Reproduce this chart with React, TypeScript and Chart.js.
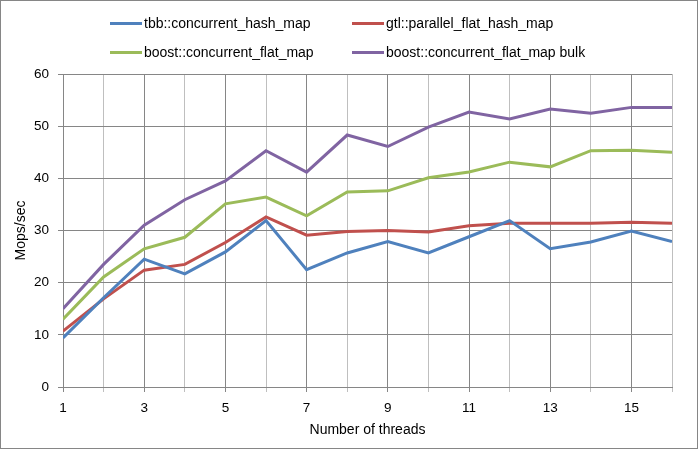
import React, { useEffect, useRef } from "react";
import { Chart, registerables } from "chart.js";

Chart.register(...registerables);

const threads = [1, 2, 3, 4, 5, 6, 7, 8, 9, 10, 11, 12, 13, 14, 15, 16];
const tbbHashMap = [9.4, 17.1, 24.5, 21.7, 25.9, 31.9, 22.5, 25.7, 27.9, 25.7, 28.8, 31.9, 26.5, 27.8, 29.9, 27.9];
const gtlParallel = [10.7, 16.9, 22.4, 23.5, 27.7, 32.6, 29.1, 29.8, 30.0, 29.7, 30.9, 31.4, 31.4, 31.4, 31.6, 31.4];
const boostFlat = [13.0, 21.1, 26.5, 28.7, 35.1, 36.4, 32.8, 37.4, 37.6, 40.1, 41.2, 43.1, 42.2, 45.3, 45.4, 45.0];
const boostBulk = [15.0, 23.5, 31.0, 35.9, 39.5, 45.3, 41.2, 48.3, 46.1, 49.8, 52.7, 51.4, 53.3, 52.5, 53.6, 53.6];

const seriesLabels = [
  "tbb::concurrent_hash_map",
  "gtl::parallel_flat_hash_map",
  "boost::concurrent_flat_map",
  "boost::concurrent_flat_map bulk",
];
const seriesColors = ["#4F81BD", "#C0504D", "#9BBB59", "#8064A2"];
const seriesValues = [tbbHashMap, gtlParallel, boostFlat, boostBulk];

const yTicks = { min: 0, max: 60, step: 10 };
const xTitle = "Number of threads";
const yTitle = "Mops/sec";

const FONT = "'Liberation Sans', Arial, sans-serif";

export default function App() {
  const ref = useRef<HTMLCanvasElement>(null);

  useEffect(() => {
    if (!ref.current) return;
    const chart = new Chart(ref.current, {
      type: "line",
      data: {
        datasets: seriesValues.map((vals, i) => ({
          label: seriesLabels[i],
          data: threads.map((t, j) => ({ x: t, y: vals[j] })),
          borderColor: seriesColors[i],
          backgroundColor: seriesColors[i],
          borderWidth: 3,
          pointRadius: 0,
          tension: 0,
          fill: false,
        })),
      },
      options: {
        animation: false,
        responsive: false,
        maintainAspectRatio: false,
        layout: { padding: { top: 74, right: 26, left: 0, bottom: 0 } },
        plugins: { legend: { display: false }, tooltip: { enabled: false } },
        scales: {
          x: {
            type: "linear",
            min: threads[0],
            max: threads[threads.length - 1],
            ticks: {
              stepSize: 1,
              autoSkip: false,
              maxRotation: 0,
              padding: 8,
              color: "#000",
              font: { family: FONT, size: 13.5 },
              callback: (v: any) => (Number(v) % 2 === 1 ? String(v) : ""),
            },
            grid: {
              color: (ctx: any) =>
                ctx.tick && ctx.tick.value % 2 === 1 ? "#868686" : "#BFBFBF",
              tickLength: 5,
            },
            border: { color: "#868686" },
            title: {
              display: true,
              text: xTitle,
              color: "#000",
              font: { family: FONT, size: 14 },
              padding: { top: 0, bottom: 10 },
            },
            afterFit: (s: any) => {
              s.height = 62;
            },
          },
          y: {
            min: yTicks.min,
            max: yTicks.max,
            ticks: {
              stepSize: yTicks.step,
              padding: 9,
              color: "#000",
              font: { family: FONT, size: 13.5 },
            },
            grid: { color: "#868686", tickLength: 5 },
            border: { color: "#868686" },
            title: {
              display: true,
              text: yTitle,
              color: "#000",
              font: { family: FONT, size: 14 },
              padding: { top: 13, bottom: 0 },
            },
            afterFit: (s: any) => {
              s.width = 63;
            },
          },
        },
      },
    });
    return () => chart.destroy();
  }, []);

  const legendPos = [
    { left: 110, top: 23 },
    { left: 352, top: 23 },
    { left: 110, top: 52 },
    { left: 352, top: 52 },
  ];

  return (
    <div
      style={{
        position: "fixed",
        left: 0,
        top: 0,
        width: 698,
        height: 449,
        background: "#fff",
        fontFamily: FONT,
      }}
    >
      <canvas ref={ref} width={698} height={449} style={{ position: "absolute", left: 0, top: 0, width: 698, height: 449 }} />
      {seriesLabels.map((label, i) => (
        <div key={label}>
          <div
            style={{
              position: "absolute",
              left: legendPos[i].left,
              top: legendPos[i].top - 1.5,
              width: 32,
              height: 3,
              background: seriesColors[i],
            }}
          />
          <div
            style={{
              position: "absolute",
              left: legendPos[i].left + 34,
              top: legendPos[i].top - 9,
              height: 18,
              lineHeight: "18px",
              fontSize: 14,
              color: "#000",
              whiteSpace: "nowrap",
            }}
          >
            {label}
          </div>
        </div>
      ))}
      <div
        style={{
          position: "absolute",
          left: 0,
          top: 0,
          width: 698,
          height: 449,
          boxSizing: "border-box",
          border: "1px solid #868686",
          pointerEvents: "none",
        }}
      />
    </div>
  );
}
